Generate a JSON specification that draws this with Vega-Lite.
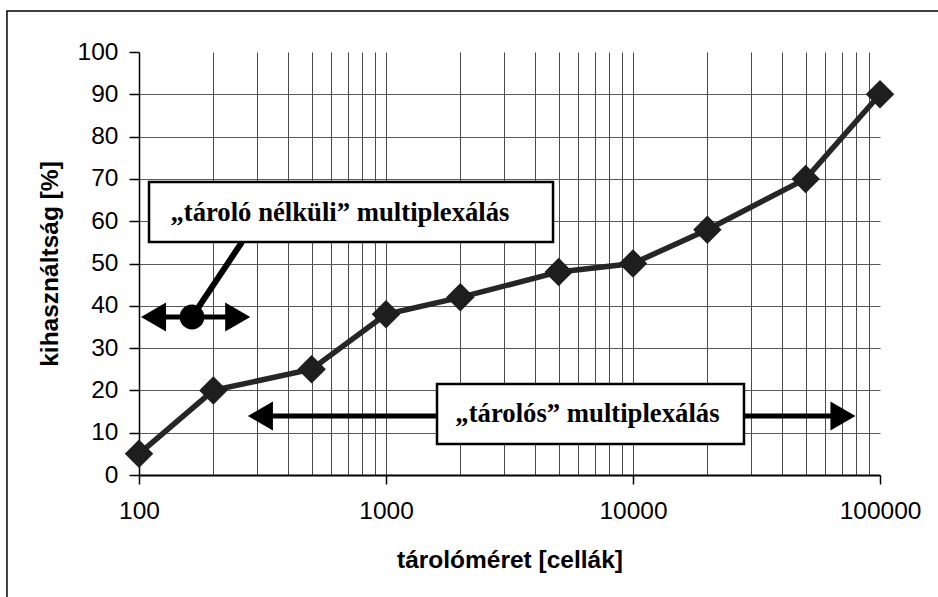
{
  "$schema": "https://vega.github.io/schema/vega-lite/v6.json",
  "width": 741,
  "height": 423,
  "autosize": {"type": "none"},
  "padding": {"left": 139, "top": 52, "right": 58, "bottom": 122},
  "background": "white",
  "config": {"view": {"stroke": null}},
  "datasets": {
    "series": [
      {"meret": 100, "kihasznaltsag": 5},
      {"meret": 200, "kihasznaltsag": 20},
      {"meret": 500, "kihasznaltsag": 25},
      {"meret": 1000, "kihasznaltsag": 38},
      {"meret": 2000, "kihasznaltsag": 42},
      {"meret": 5000, "kihasznaltsag": 48},
      {"meret": 10000, "kihasznaltsag": 50},
      {"meret": 20000, "kihasznaltsag": 58},
      {"meret": 50000, "kihasznaltsag": 70},
      {"meret": 100000, "kihasznaltsag": 90}
    ],
    "frame": [{"x1": 29.2, "x2": 10000000, "y1": 109.7, "y2": -60}],
    "arrows": [
      {"arrow": "nelkuli", "x1": 114.5, "x2": 251, "y": 37.35},
      {"arrow": "tarolos", "x1": 310, "x2": 70800, "y": 13.95}
    ],
    "boxes": [
      {"label": "„tároló nélküli” multiplexálás", "x1": 109.8, "x2": 4745, "y1": 69.27, "y2": 55.08, "tx": 651, "ty": 61.94},
      {"label": "„tárolós” multiplexálás", "x1": 1609, "x2": 28140, "y1": 21.51, "y2": 7.33, "tx": 6540, "ty": 14.45}
    ],
    "connector": [{"x1": 261.2, "y1": 55.08, "x2": 163.9, "y2": 37.35}]
  },
  "layer": [
    {
      "data": {"name": "series"},
      "mark": {"type": "line", "color": "#262626", "strokeWidth": 5.5},
      "encoding": {
        "x": {
          "field": "meret", "type": "quantitative",
          "scale": {"type": "log", "domain": [100, 100000]},
          "axis": {
            "title": "tárolóméret [cellák]",
            "values": [100, 200, 300, 400, 500, 600, 700, 800, 900, 1000, 2000, 3000, 4000, 5000, 6000, 7000, 8000, 9000, 10000, 20000, 30000, 40000, 50000, 60000, 70000, 80000, 90000, 100000],
            "labelExpr": "indexof([100, 1000, 10000, 100000], datum.value) >= 0 ? format(datum.value, 'd') : ''",
            "labelOverlap": false,
            "labelFlush": false,
            "labelBound": false,
            "labelFont": "Liberation Sans",
            "labelFontSize": 24.5,
            "labelColor": "black",
            "labelPadding": 15,
            "tickSize": 9,
            "tickWidth": 1.5,
            "tickColor": {"condition": {"test": "indexof([100, 1000, 10000, 100000], datum.value) < 0", "value": "transparent"}, "value": "black"},
            "grid": true,
            "gridColor": {"condition": {"test": "datum.value == 100 || datum.value == 100000", "value": "transparent"}, "value": "#4a4a4a"},
            "gridWidth": 1,
            "gridOpacity": 1,
            "domainColor": "black",
            "domainWidth": 2,
            "titleFont": "Liberation Sans",
            "titleFontSize": 24.5,
            "titleFontWeight": "bold",
            "titleColor": "black",
            "titlePadding": 26
          }
        },
        "y": {
          "field": "kihasznaltsag", "type": "quantitative",
          "scale": {"domain": [0, 100]},
          "axis": {
            "title": "kihasználtság [%]",
            "values": [0, 10, 20, 30, 40, 50, 60, 70, 80, 90, 100],
            "labelFlush": false,
            "labelBound": false,
            "labelFont": "Liberation Sans",
            "labelFontSize": 24.5,
            "labelColor": "black",
            "labelPadding": 11,
            "tickSize": 10,
            "tickWidth": 1.5,
            "tickColor": "black",
            "grid": true,
            "gridColor": {"condition": {"test": "datum.value == 100 || datum.value == 0", "value": "transparent"}, "value": "#5a5a5a"},
            "gridWidth": 1,
            "gridOpacity": 1,
            "domainColor": "black",
            "domainWidth": 1.5,
            "titleFont": "Liberation Sans",
            "titleFontSize": 24.5,
            "titleFontWeight": "bold",
            "titleColor": "black",
            "titlePadding": 15
          }
        }
      }
    },
    {
      "data": {"name": "series"},
      "mark": {"type": "point", "shape": "diamond", "filled": true, "size": 810, "color": "#1e1e1e", "opacity": 1},
      "encoding": {
        "x": {"field": "meret", "type": "quantitative"},
        "y": {"field": "kihasznaltsag", "type": "quantitative"}
      }
    },
    {
      "data": {"name": "arrows"},
      "mark": {"type": "rule", "color": "black", "strokeWidth": 5},
      "encoding": {
        "x": {"field": "x1", "type": "quantitative"},
        "x2": {"field": "x2"},
        "y": {"field": "y", "type": "quantitative"}
      }
    },
    {
      "data": {"name": "arrows"},
      "mark": {"type": "point", "shape": "triangle-left", "filled": true, "size": 840, "color": "black", "opacity": 1},
      "encoding": {
        "x": {"field": "x1", "type": "quantitative"},
        "y": {"field": "y", "type": "quantitative"}
      }
    },
    {
      "data": {"name": "arrows"},
      "mark": {"type": "point", "shape": "triangle-right", "filled": true, "size": 840, "color": "black", "opacity": 1},
      "encoding": {
        "x": {"field": "x2", "type": "quantitative"},
        "y": {"field": "y", "type": "quantitative"}
      }
    },
    {
      "data": {"name": "connector"},
      "mark": {"type": "rule", "color": "black", "strokeWidth": 6},
      "encoding": {
        "x": {"field": "x1", "type": "quantitative"},
        "y": {"field": "y1", "type": "quantitative"},
        "x2": {"field": "x2"},
        "y2": {"field": "y2"}
      }
    },
    {
      "data": {"name": "connector"},
      "mark": {"type": "point", "shape": "circle", "filled": true, "size": 615, "color": "black", "opacity": 1},
      "encoding": {
        "x": {"field": "x2", "type": "quantitative"},
        "y": {"field": "y2", "type": "quantitative"}
      }
    },
    {
      "data": {"name": "boxes"},
      "mark": {"type": "rect", "fill": "white", "stroke": "black", "strokeWidth": 2.5},
      "encoding": {
        "x": {"field": "x1", "type": "quantitative"},
        "x2": {"field": "x2"},
        "y": {"field": "y1", "type": "quantitative"},
        "y2": {"field": "y2"}
      }
    },
    {
      "data": {"name": "boxes"},
      "mark": {"type": "text", "font": "Liberation Serif", "fontWeight": "bold", "fontSize": 26.7, "color": "black", "align": "center", "baseline": "middle"},
      "encoding": {
        "x": {"field": "tx", "type": "quantitative"},
        "y": {"field": "ty", "type": "quantitative"},
        "text": {"field": "label"}
      }
    },
    {
      "data": {"name": "frame"},
      "mark": {"type": "rect", "fill": null, "stroke": "black", "strokeWidth": 1.5},
      "encoding": {
        "x": {"field": "x1", "type": "quantitative"},
        "x2": {"field": "x2"},
        "y": {"field": "y1", "type": "quantitative"},
        "y2": {"field": "y2"}
      }
    }
  ]
}
